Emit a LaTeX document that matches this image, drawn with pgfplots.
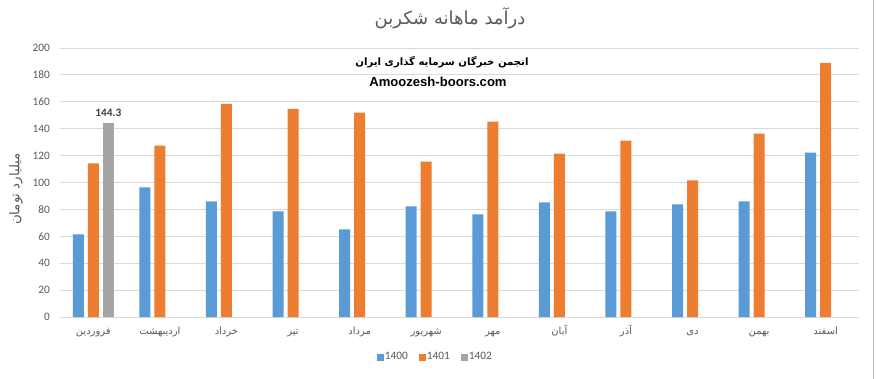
\documentclass[border=0pt]{standalone}
\usepackage{pgfplots}
\pgfplotsset{compat=1.18}
\usepackage{fontspec}
\setmainfont{Carlito}
\newfontfamily\arabicfont[Script=Arabic]{DejaVu Sans}
\newfontfamily\arialfont{Liberation Sans}
\TeXXeTstate=1
\definecolor{c1400}{HTML}{5B9BD5}
\definecolor{c1401}{HTML}{ED7D31}
\definecolor{c1402}{HTML}{A5A5A5}
\definecolor{txt}{HTML}{595959}
\definecolor{gridc}{HTML}{D9D9D9}
\definecolor{lbl}{HTML}{404040}
\newcommand{\fa}[1]{{\arabicfont\beginR #1\endR}}

\begin{document}
\begin{tikzpicture}
\begin{scope}[x=0.75pt,y=0.75pt]
\fill[white] (0,0) rectangle (876,379);
\end{scope}
\begin{axis}[
  at={(45pt,46.5pt)}, anchor=south west,
  scale only axis, width=599.25pt, height=201.75pt,
  xmin=-0.5, xmax=11.5, ymin=0, ymax=200,
  ytick={0,20,...,200},
  xtick={0,...,11},
  xticklabels={\fa{فروردین},\fa{اردیبهشت},\fa{خرداد},\fa{تیر},\fa{مرداد},\fa{شهریور},\fa{مهر},\fa{آبان},\fa{آذر},\fa{دی},\fa{بهمن},\fa{اسفند}},
  ymajorgrids, grid style={gridc, line width=0.75pt},
  axis line style={draw=none},
  major tick length=0pt,
  ybar=3pt, bar width=8.25pt,
  /pgf/number format/assume math mode=true,
  tick label style={color=txt},
  yticklabel style={font=\fontsize{8.5}{10}\selectfont, xshift=-4pt},
  xticklabel style={font=\fontsize{7.5}{9}\selectfont, anchor=base, yshift=-13pt},
  legend style={at={(0.47,-0.149)}, anchor=center, draw=none, fill=none,
    legend columns=3, font=\fontsize{8.5}{10}\selectfont, text=txt,
    /tikz/every even column/.append style={column sep=6pt},
    /tikz/every odd column/.append style={column sep=-1pt}},
  legend image code/.code={\fill[#1] (0pt,-2.6pt) rectangle (5.25pt,2.6pt);},
]
\addplot[fill=c1400, draw=none] coordinates {
 (0,61.5) (1,96.3) (2,86) (3,78.5) (4,65.2) (5,82.2) (6,76.3) (7,85.2) (8,78.5) (9,83.7) (10,85.9) (11,122.2)};
\addplot[fill=c1401, draw=none] coordinates {
 (0,114.3) (1,127.4) (2,158.5) (3,154.8) (4,151.9) (5,115.6) (6,145.2) (7,121.5) (8,131.1) (9,101.5) (10,136.3) (11,188.9)};
\addplot[fill=c1402, draw=none, nodes near coords={\pgfmathprintnumber[fixed,precision=1]{\pgfplotspointmeta}},
  nodes near coords style={font=\bfseries\fontsize{8.5}{10}\selectfont, text=lbl, yshift=1pt}] coordinates {
 (0,144.3)};
\legend{1400,1401,1402}
\end{axis}
\begin{scope}[x=0.75pt,y=0.75pt]
\node[text=txt, font=\arabicfont\fontsize{13.5}{15}\selectfont] at (450,361) {\beginR درآمد ماهانه شکربن\endR};
\node[text=txt, rotate=90, font=\arabicfont\fontsize{10}{12}\selectfont] at (16,190) {\beginR میلیارد تومان\endR};
\node[fill=white, inner sep=1pt, font=\arabicfont\bfseries\fontsize{7.6}{9}\selectfont] at (442,317) {\beginR انجمن خبرگان سرمایه گذاری ایران\endR};
\node[fill=white, inner sep=1pt, font=\arialfont\bfseries\fontsize{9.8}{12}\selectfont] at (438,297) {Amoozesh-boors.com};
\draw[gray!50, line width=0.75pt] (873,0) -- (873,379);
\pgfresetboundingbox
\path (0,0) rectangle (876,379);
\end{scope}
\end{tikzpicture}
\end{document}
